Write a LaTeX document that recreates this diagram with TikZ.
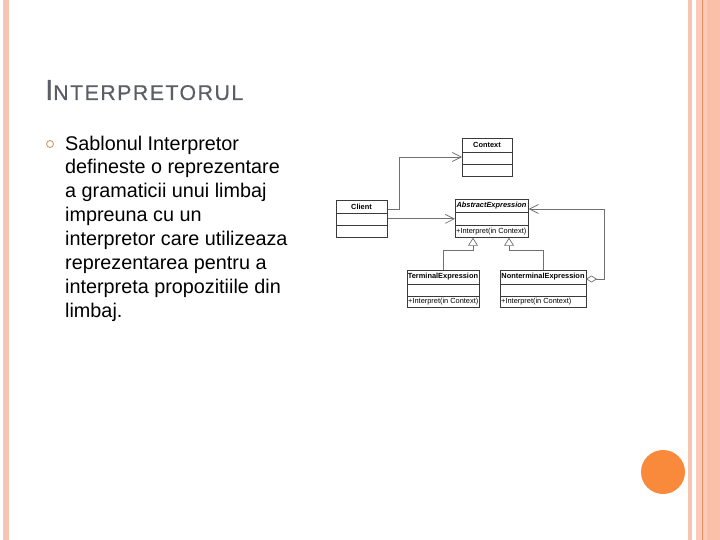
\documentclass[tikz,border=0pt]{standalone}
\usepackage{fontspec}
\setmainfont{Liberation Sans}
\usetikzlibrary{arrows.meta,calc}
\definecolor{barA}{HTML}{F7C6B2}
\definecolor{barB}{HTML}{FCCAB8}
\definecolor{barC}{HTML}{FBC0AA}
\definecolor{barline}{HTML}{E58C60}
\definecolor{circcol}{HTML}{F98A3B}
\definecolor{titlegray}{HTML}{5A5E66}
\definecolor{bulletcol}{HTML}{D49A6A}
\definecolor{boxcol}{HTML}{3A3A3A}
\definecolor{conncol}{HTML}{707070}
\begin{document}
\begin{tikzpicture}[x=1pt,y=-1pt,
  umlbox/.style={draw=boxcol, line width=0.7pt, fill=white, inner sep=0pt, anchor=north west},
  divider/.style={draw=boxcol, line width=0.6pt},
  umlname/.style={inner sep=0pt, font=\fontsize{7.4}{8}\selectfont\bfseries},
  umlop/.style={inner sep=0pt, anchor=west, font=\fontsize{7.4}{8}\selectfont},
  assoc/.style={draw=conncol, line width=0.8pt, -{Straight Barb[length=9pt,width=9pt,line width=0.7pt]}},
  gen/.style={draw=conncol, line width=0.8pt, -{Triangle[open,length=8pt,width=10pt,line width=0.7pt]}},
  agg/.style={draw=conncol, line width=0.8pt, {Diamond[open,length=11pt,width=7pt,line width=0.7pt]}-{Straight Barb[length=9pt,width=9pt,line width=0.7pt]}}
]
\useasboundingbox (0,0) rectangle (720,540);
\fill[white] (0,0) rectangle (720,540);
% slide decoration
\fill[barA] (3,0) rectangle (9,540);
\fill[barA] (688,0) rectangle (692,540);
\fill[barB] (696,0) rectangle (720,540);
\fill[barC] (707,0) rectangle (720,540);
\draw[barline, line width=0.8pt] (702.5,0) -- (702.5,540);
\fill[circcol] (663,472) circle[radius=22pt];

% title
\node[anchor=base west, inner sep=0pt, text=titlegray] (title) at (45,100)
  {\addfontfeature{FakeBold=0.6}\fontsize{29}{29}\selectfont I\fontsize{21.3}{21}\selectfont\addfontfeature{LetterSpace=7}NTERPRETORUL};

% bullet and text
\node[circle, draw=bulletcol, line width=0.9pt, minimum size=7pt, inner sep=0pt] (bul) at (50,144) {};
\node[anchor=base west, inner sep=0pt, align=left, font=\fontsize{19.8}{23.9}\selectfont] (body) at (65,317.3)
  {Sablonul Interpretor\\defineste o reprezentare\\a gramaticii unui limbaj\\impreuna cu un\\interpretor care utilizeaza\\reprezentarea pentru a\\interpreta propozitiile din\\limbaj.};

% UML boxes
\node[umlbox, minimum width=50pt, minimum height=38pt] (ctx) at (462,138) {};
\draw[divider] (462,152) -- (512,152);
\draw[divider] (462,164) -- (512,164);
\node[umlname] (ctxname) at (487,145) {Context};

\node[umlbox, minimum width=51pt, minimum height=37pt] (cli) at (336,200) {};
\draw[divider] (336,213) -- (387,213);
\draw[divider] (336,225) -- (387,225);
\node[umlname] (cliname) at (361.5,206.5) {Client};

\node[umlbox, minimum width=73pt, minimum height=38pt] (abs) at (455,199) {};
\draw[divider] (455,212.5) -- (528,212.5);
\draw[divider] (455,225.5) -- (528,225.5);
\node[umlname, font=\fontsize{7.4}{8}\selectfont\bfseries\itshape] (absname) at (491.5,205.7) {AbstractExpression};
\node[umlop] (absop) at (456,231.2) {+Interpret(in Context)};

\node[umlbox, minimum width=72pt, minimum height=37pt] (term) at (407,270) {};
\draw[divider] (407,284) -- (479,284);
\draw[divider] (407,296) -- (479,296);
\node[umlname] (termname) at (443,277) {TerminalExpression};
\node[umlop] (termop) at (408,301.5) {+Interpret(in Context)};

\node[umlbox, minimum width=86pt, minimum height=37pt] (nt) at (500,270) {};
\draw[divider] (500,284) -- (586,284);
\draw[divider] (500,296) -- (586,296);
\node[umlname] (ntname) at (543,277) {NonterminalExpression};
\node[umlop] (ntop) at (501,301.5) {+Interpret(in Context)};

% connectors
\coordinate (c1) at (399,157);
\draw[assoc] ($(cli.east)+(0,-9.5)$) -| (c1) -- (c1 -| ctx.west);
\draw[assoc] (cli.east) -- (cli.east -| abs.west);
\coordinate (g1) at (473,250);
\coordinate (g2) at (509,250);
\draw[gen] (term.north) |- (g1) -- (g1 |- abs.south);
\draw[gen] (nt.north) |- (g2) -- (g2 |- abs.south);
\coordinate (a0) at (586,279);
\coordinate (a1) at (604.5,209);
\draw[agg] (a0) -| (a1) -- (a1 -| abs.east);
\end{tikzpicture}
\end{document}
